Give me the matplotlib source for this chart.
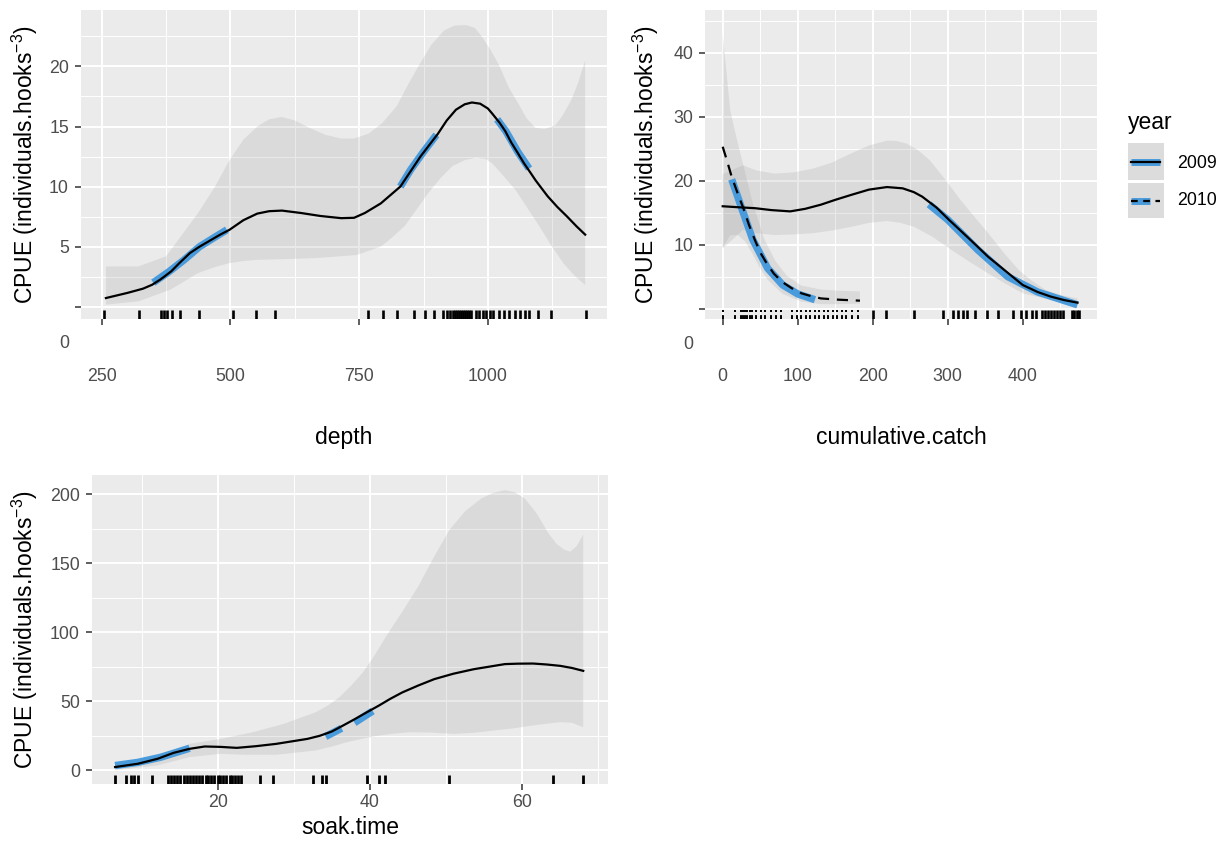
import matplotlib.pyplot as plt
from matplotlib.lines import Line2D
from matplotlib.patches import Rectangle

plt.rcParams['font.family'] = ['Liberation Sans', 'DejaVu Sans']
plt.rcParams['mathtext.fontset'] = 'custom'
plt.rcParams['mathtext.rm'] = 'Liberation Sans'
plt.rcParams['mathtext.it'] = 'Liberation Sans:italic'

# ---- depth panel ----
depth_x = [258, 300, 330, 348, 365, 385, 400, 421, 440, 460, 480, 498, 525, 552, 575, 600, 637, 675,
           715, 740, 761, 792, 830, 869, 903, 920, 938, 955, 969, 985, 1000, 1008, 1023, 1034, 1045,
           1058, 1070, 1082, 1093, 1116, 1135, 1154, 1172, 1189]
depth_fit = [0.72, 1.15, 1.5, 1.83, 2.3, 2.95, 3.6, 4.46, 5.0, 5.5, 6.0, 6.4, 7.2, 7.75, 7.95, 8.0, 7.8,
             7.55, 7.37, 7.4, 7.8, 8.6, 10.0, 12.5, 14.4, 15.5, 16.4, 16.85, 17.0, 16.9, 16.5, 16.1, 15.3,
             14.6, 13.7, 12.8, 11.95, 11.2, 10.5, 9.2, 8.3, 7.5, 6.7, 6.0]
depth_up_x = [258, 321, 375, 437, 470, 498, 525, 552, 575, 599, 625, 653, 685, 715, 740, 768, 795,
              823, 845, 869, 890, 915, 935, 958, 975, 988, 1005, 1023, 1040, 1062, 1075, 1092, 1110,
              1131, 1145, 1162, 1175, 1189]
depth_up = [3.35, 3.35, 4.2, 7.8, 10.0, 12.2, 13.9, 15.0, 15.6, 15.8, 15.5, 14.9, 14.3, 14.0, 14.0, 14.4,
            15.3, 16.7, 18.5, 20.3, 21.8, 23.0, 23.4, 23.45, 23.2, 22.5, 21.4, 20.0, 18.3, 16.7, 15.7, 14.9,
            14.8, 15.1, 15.9, 17.2, 18.6, 20.5]
depth_lo_x = [258, 321, 383, 410, 437, 470, 498, 525, 552, 606, 668, 745, 792, 815, 838, 860, 884,
              908, 931, 955, 977, 995, 1008, 1030, 1054, 1077, 1100, 1123, 1147, 1168, 1189]
depth_lo = [0.17, 0.44, 1.41, 2.1, 2.8, 3.3, 3.63, 3.8, 3.9, 3.96, 4.05, 4.3, 5.0, 5.8, 6.7, 8.0, 9.45,
            10.7, 11.7, 12.2, 12.4, 12.3, 11.95, 10.9, 9.7, 8.2, 6.7, 5.1, 3.6, 2.6, 1.8]
depth_blue = [([350, 380, 410, 440, 470, 493], [2.0, 2.9, 3.9, 5.0, 5.8, 6.4]),
              ([830, 850, 875, 900], [10.0, 11.4, 12.9, 14.3]),
              ([1018, 1035, 1058, 1080], [15.6, 14.6, 12.9, 11.5])]
depth_rug = [255, 322, 365, 371, 377, 386, 402, 439, 504, 550, 586, 768, 796, 824, 856, 878, 896, 913,
             920, 926, 932, 936, 940, 944, 948, 952, 956, 960, 964, 968, 976, 983, 990, 997, 1004, 1010,
             1021, 1031, 1042, 1052, 1063, 1073, 1080, 1098, 1122, 1190]

# ---- cumulative.catch panel ----
cc09_x = [0, 20, 43, 65, 90, 110, 131, 150, 172, 195, 219, 240, 255, 266, 285, 302, 328, 354, 378,
          400, 420, 437, 455, 473]
cc09_fit = [16.0, 15.85, 15.7, 15.4, 15.2, 15.6, 16.25, 17.0, 17.8, 18.6, 19.0, 18.8, 18.2, 17.5, 15.8,
            13.85, 11.0, 8.1, 5.8, 3.7, 2.6, 1.9, 1.35, 0.94]
cc09_up_x = [0, 15, 27, 45, 69, 95, 121, 145, 172, 195, 219, 232, 245, 260, 276, 296, 317, 336, 354,
             375, 395, 413, 431, 452, 473]
cc09_up = [21.0, 21.8, 22.4, 21.6, 21.1, 21.3, 21.9, 22.8, 24.3, 25.5, 26.25, 26.2, 25.8, 24.8, 23.2,
           20.3, 17.0, 14.3, 11.8, 8.7, 6.0, 4.3, 2.9, 2.1, 1.6]
cc09_lo_x = [0, 27, 45, 69, 95, 121, 145, 172, 195, 219, 237, 255, 280, 302, 328, 354, 377, 400,
             436, 473]
cc09_lo = [9.4, 12.3, 11.8, 11.5, 11.6, 11.8, 12.2, 12.8, 13.4, 13.7, 13.4, 12.8, 11.2, 9.4, 7.4, 5.5,
           3.9, 2.4, 1.4, 0.6]
cc10_x = [0, 6, 12, 20, 27.5, 35, 43, 50, 58.5, 68, 79, 92, 105, 118, 131, 155, 183]
cc10_fit = [25.3, 23.0, 20.6, 18.0, 15.7, 13.1, 10.7, 8.8, 7.1, 5.5, 4.2, 3.2, 2.4, 1.95, 1.6, 1.4, 1.25]
cc10_up_x = [0, 5, 10, 17, 27.5, 40, 55, 70, 85, 105, 131, 155, 183]
cc10_up = [43, 37, 31, 27.4, 22.4, 16.5, 11.0, 7.5, 5.2, 3.6, 3.0, 2.8, 2.7]
cc10_lo_x = [0, 10, 20, 30, 40, 50, 60, 80, 105, 131, 155, 183]
cc10_lo = [9.5, 11.5, 11.5, 10.5, 8.5, 6.3, 4.5, 2.3, 1.1, 0.7, 0.7, 0.8]
cc_blue = [([12, 25, 40, 60, 80, 100, 123], [20.2, 15.8, 10.8, 6.3, 3.7, 2.3, 1.4]),
           ([275, 300, 340, 380, 420, 473], [16.3, 13.9, 9.2, 5.0, 2.6, 0.6])]
cc09_rug = [201, 218, 255, 294, 307, 314, 320, 326, 336, 353, 367, 387, 398, 404, 412, 418, 426, 430,
            434, 438, 442, 446, 450, 454, 466, 469, 472, 475]
cc10_rug = [0, 17, 24, 27, 30, 33, 36, 39, 44, 51, 57, 64, 71, 78, 93, 99, 104, 111, 117, 123, 129,
            135, 141, 147, 153, 159, 165, 172, 181]

# ---- soak.time panel ----
soak_x = [6.5, 9.5, 12.1, 14.2, 16.3, 18.3, 20.4, 22.5, 25, 27.7, 31.8, 33.4, 35.0, 36.5, 38.1, 39.6,
          41.2, 42.7, 44.3, 46.4, 48.5, 51, 53.7, 57.8, 59.5, 61.5, 63.3, 65.1, 66.6, 68.1]
soak_fit = [2.4, 4.8, 8.4, 12.7, 15.6, 17.3, 17.0, 16.3, 17.5, 19.2, 22.8, 25.0, 28.1, 32.5, 37.3, 42.0,
            46.9, 51.8, 56.5, 61.5, 66.1, 70.0, 73.3, 77, 77.3, 77.4, 76.7, 75.7, 74.2, 72.1]
soak_up_x = [6.5, 12.1, 16.3, 20.4, 24.6, 28.7, 32.9, 34.5, 36.0, 37.5, 39.1, 40.6, 42.2, 44.3, 46.4,
             48.5, 50.5, 52.6, 54.7, 56.2, 57.8, 59.1, 60.4, 62, 63.5, 64.6, 65.6, 66.4, 67.2, 68.1]
soak_up = [4.8, 10.8, 19.2, 22.8, 27.6, 33.7, 42.1, 47, 52.9, 61, 70.9, 83, 97.4, 115, 133.4, 155, 174.3,
           188, 197, 201, 203, 201.5, 197, 186, 171.9, 164, 159.9, 158.5, 162.3, 170.7]
soak_lo_x = [6.5, 12.1, 16.3, 20.4, 23.5, 27.7, 32.9, 35, 37.0, 39.1, 41.2, 43.3, 45.4, 48, 51.1, 53.7,
             56.3, 59, 61.5, 63.3, 65.1, 66.6, 68.1]
soak_lo = [0, 3.6, 9.6, 12.0, 11.3, 11.3, 14.4, 17.2, 20.4, 23, 25.2, 26.7, 27.6, 27.4, 26.4, 27.2, 28.8,
           30.5, 32.5, 33.8, 34.9, 34.5, 31.3]
soak_blue = [([6.5, 9.5, 12.5, 16.3], [3.5, 5.8, 9.5, 16.0]),
             ([34.2, 36.3], [24.5, 30.5]),
             ([38.0, 40.4], [34.5, 43.0])]
soak_rug = [6.5, 7.9, 8.6, 9.0, 9.5, 11.3, 13.4, 13.9, 14.3, 14.7, 15.1, 15.6, 15.9, 16.3, 16.8, 17.1,
            17.5, 17.9, 18.4, 18.7, 19.1, 19.5, 20.0, 20.3, 20.7, 21.1, 21.6, 21.9, 22.3, 22.7, 23.1,
            25.6, 27.3, 32.6, 33.7, 34.2, 39.6, 41.2, 42.0, 50.5, 64.1, 68.1]

ylab = r'CPUE (individuals.hooks$^{-3}$)'
BLUE = '#4a9bdc'
W, H = 1223, 842


def box(l, t, r, b):
    return [l / W, 1 - b / H, (r - l) / W, (b - t) / H]


def style(ax):
    ax.set_facecolor('#ebebeb')
    for s in ax.spines.values():
        s.set_visible(False)
    ax.grid(which='major', color='white', lw=1.4)
    ax.grid(which='minor', color='white', lw=0.7)
    ax.set_axisbelow(True)
    ax.tick_params(which='major', length=4, width=1.1, color='#333333',
                   labelcolor='#4d4d4d', labelsize=12.8)
    ax.tick_params(axis='y', pad=4.5)
    ax.tick_params(which='minor', length=0)


def ribbon(ax, ux, uy, lx, ly):
    ax.fill(list(ux) + lx[::-1], list(uy) + ly[::-1], color='#999999', alpha=0.2, lw=0, zorder=2)


def rug(ax, xs, **kw):
    ax.vlines(xs, 0, 0.03, transform=ax.get_xaxis_transform(), colors='black', zorder=3, **kw)


fig = plt.figure(figsize=(W / 100, H / 100), dpi=100)

# depth
ax1 = fig.add_axes(box(80.7, 10, 607.3, 319.3))
style(ax1)
ribbon(ax1, depth_up_x, depth_up, depth_lo_x, depth_lo)
for bx, by in depth_blue:
    ax1.plot(bx, by, color=BLUE, lw=5.3, solid_capstyle='butt', zorder=4)
ax1.plot(depth_x, depth_fit, color='black', lw=1.6, zorder=5)
rug(ax1, depth_rug, lw=1.9)
ax1.set_xlim(209, 1232)
ax1.set_ylim(-1.05, 24.7)
ax1.set_xticks([250, 500, 750, 1000])
ax1.set_xticks([375, 625, 875, 1125], minor=True)
ax1.set_yticks([0, 5, 10, 15, 20])
ax1.set_yticklabels(['', '5', '10', '15', '20'])
ax1.set_yticks([2.5, 7.5, 12.5, 17.5, 22.5], minor=True)
ax1.tick_params(axis='x', pad=31)

# cumulative.catch
ax2 = fig.add_axes(box(705, 10, 1096.6, 319.3))
style(ax2)
ribbon(ax2, cc09_up_x, cc09_up, cc09_lo_x, cc09_lo)
ribbon(ax2, cc10_up_x, cc10_up, cc10_lo_x, cc10_lo)
for bx, by in cc_blue:
    ax2.plot(bx, by, color=BLUE, lw=5.3, solid_capstyle='butt', zorder=4)
ax2.plot(cc09_x, cc09_fit, color='black', lw=1.6, zorder=5)
ax2.plot(cc10_x, cc10_fit, color='black', lw=1.6, ls=(0, (5, 3.5)), zorder=5)
rug(ax2, cc09_rug, lw=1.9)
rug(ax2, cc10_rug, lw=1.4, linestyles=(0, (2, 1.6)))
ax2.set_xlim(-23.6, 498.5)
ax2.set_ylim(-1.66, 46.66)
ax2.set_xticks([0, 100, 200, 300, 400])
ax2.set_xticks([50, 150, 250, 350, 450], minor=True)
ax2.set_yticks([0, 10, 20, 30, 40])
ax2.set_yticklabels(['', '10', '20', '30', '40'])
ax2.set_yticks([5, 15, 25, 35, 45], minor=True)
ax2.tick_params(axis='x', pad=31)

# soak.time
ax3 = fig.add_axes(box(91.7, 475, 608.3, 784.3))
style(ax3)
ribbon(ax3, soak_up_x, soak_up, soak_lo_x, soak_lo)
for bx, by in soak_blue:
    ax3.plot(bx, by, color=BLUE, lw=5.3, solid_capstyle='butt', zorder=4)
ax3.plot(soak_x, soak_fit, color='black', lw=1.6, zorder=5)
rug(ax3, soak_rug, lw=2.0)
ax3.set_xlim(3.42, 71.4)
ax3.set_ylim(-10.1, 214)
ax3.set_xticks([20, 40, 60])
ax3.set_xticks([10, 30, 50, 70], minor=True)
ax3.set_yticks([0, 50, 100, 150, 200])
ax3.set_yticks([25, 75, 125, 175], minor=True)
ax3.tick_params(axis='x', pad=3)


def ftext(x, y, s, **kw):
    fig.text(x / W, 1 - y / H, s, **kw)


# displaced zero labels of the top panels
ftext(64, 344, '0', ha='center', va='center', color='#4d4d4d', size=12.8)
ftext(688, 345, '0', ha='center', va='center', color='#4d4d4d', size=12.8)

# axis titles
ftext(344, 438, 'depth', ha='center', va='center', size=16.5)
ftext(901, 438, 'cumulative.catch', ha='center', va='center', size=16.5)
ftext(350, 828, 'soak.time', ha='center', va='center', size=16.5)
ftext(25, 165, ylab, ha='center', va='center', rotation=90, size=16.5)
ftext(646, 165, ylab, ha='center', va='center', rotation=90, size=16.5)
ftext(25, 630, ylab, ha='center', va='center', rotation=90, size=16.5)

# legend
ftext(1128, 122, 'year', ha='left', va='center', size=16.5)
for top, bot in [(143.3, 180), (183.3, 218.3)]:
    fig.add_artist(Rectangle((1127.7 / W, 1 - bot / H), 36.3 / W, (bot - top) / H,
                             transform=fig.transFigure, facecolor='#dcdcdc', edgecolor='none'))
fig.add_artist(Line2D([1131 / W, 1160 / W], [1 - 162 / H] * 2, transform=fig.transFigure,
                      color=BLUE, lw=5, solid_capstyle='butt'))
fig.add_artist(Line2D([1131 / W, 1160 / W], [1 - 162 / H] * 2, transform=fig.transFigure,
                      color='black', lw=1.6))
fig.add_artist(Line2D([1131 / W, 1150 / W], [1 - 200.7 / H] * 2, transform=fig.transFigure,
                      color=BLUE, lw=5, solid_capstyle='butt'))
fig.add_artist(Line2D([1131 / W, 1160 / W], [1 - 200.7 / H] * 2, transform=fig.transFigure,
                      color='black', lw=1.6, ls=(0, (3, 2.5))))
ftext(1176.7, 163.3, '2009', ha='left', va='center', size=12.8)
ftext(1176.7, 200.7, '2010', ha='left', va='center', size=12.8)

fig.savefig('out.png', dpi=100)
